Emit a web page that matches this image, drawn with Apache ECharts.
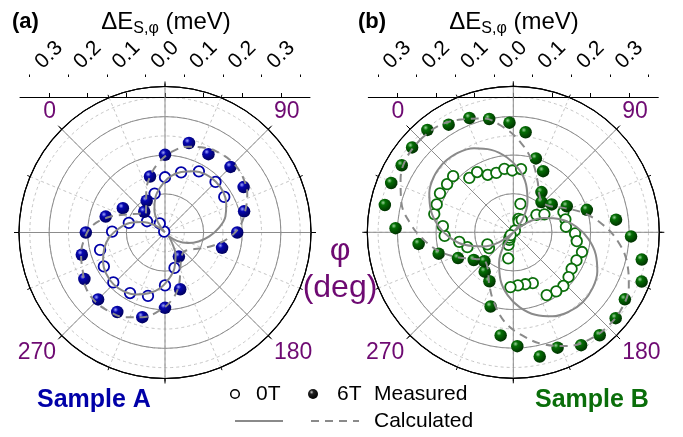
<!DOCTYPE html>
<html>
<head>
<meta charset="utf-8">
<script src="https://cdn.jsdelivr.net/npm/echarts@6/dist/echarts.min.js"></script>
<style>
  html, body { margin: 0; padding: 0; background: #fff; }
  #main { width: 683px; height: 437px; }
</style>
</head>
<body>
<div id="main"></div>
<script>
// angles (deg) of the calculated curves
const calcAng = [0, 10, 20, 30, 40, 50, 60, 70, 80, 90, 100, 110, 120, 130, 140, 150, 160, 170, 180,
                 190, 200, 210, 220, 230, 240, 250, 260, 270, 280, 290, 300, 310, 320, 330, 340, 350, 360];

// sample A : calculated dE (meV) at calcAng
const aCalc0T = [0.000, 0.030, 0.065, 0.095, 0.120, 0.145, 0.162, 0.175, 0.184, 0.186, 0.184, 0.175, 0.162,
                 0.140, 0.115, 0.090, 0.065, 0.038, 0.012, 0.030, 0.065, 0.095, 0.120, 0.145, 0.163, 0.177,
                 0.186, 0.189, 0.186, 0.177, 0.163, 0.145, 0.120, 0.095, 0.065, 0.033, 0.000];
const aCalc6T = [0.070, 0.085, 0.115, 0.150, 0.182, 0.210, 0.230, 0.242, 0.250, 0.252, 0.247, 0.235, 0.215,
                 0.195, 0.165, 0.130, 0.098, 0.078, 0.070, 0.075, 0.095, 0.140, 0.178, 0.205, 0.227, 0.242,
                 0.250, 0.254, 0.250, 0.235, 0.225, 0.210, 0.190, 0.152, 0.110, 0.085, 0.070];
// sample A : measured [angle, dE]
const aMeas0T = [[0, 0.003], [15, 0.027], [30, 0.104], [45, 0.143], [60, 0.161], [74, 0.181], [90, 0.185],
                 [104, 0.179], [210, 0.095], [225, 0.137], [240, 0.170], [255, 0.181], [271, 0.186],
                 [286, 0.181], [300, 0.174], [316, 0.137], [330, 0.097], [347, 0.055]];
const aMeas6T = [[0, 0.076], [15, 0.095], [30, 0.150], [45, 0.201], [60, 0.240], [74, 0.232], [90, 0.240],
                 [105, 0.235], [120, 0.212], [135, 0.187], [150, 0.153], [195, 0.072], [210, 0.152],
                 [225, 0.195], [240, 0.227], [256, 0.240], [270, 0.245], [285, 0.241], [300, 0.223],
                 [315, 0.205], [330, 0.159], [345, 0.126]];

// sample B
const bCalc0T = [0.255, 0.251, 0.240, 0.221, 0.195, 0.164, 0.128, 0.087, 0.044, 0.000, 0.044, 0.087, 0.128,
                 0.164, 0.195, 0.221, 0.240, 0.251, 0.255, 0.251, 0.240, 0.221, 0.195, 0.164, 0.128, 0.087,
                 0.044, 0.000, 0.044, 0.087, 0.128, 0.164, 0.195, 0.221, 0.240, 0.251, 0.255];
const bCalc6T = [0.340, 0.337, 0.322, 0.305, 0.272, 0.232, 0.190, 0.148, 0.118, 0.108, 0.118, 0.148, 0.190,
                 0.232, 0.272, 0.305, 0.330, 0.343, 0.345, 0.340, 0.325, 0.300, 0.268, 0.235, 0.190, 0.148,
                 0.115, 0.105, 0.120, 0.155, 0.195, 0.232, 0.268, 0.300, 0.322, 0.337, 0.340];
const bMeas0T = [[6, 0.181], [14, 0.182], [21, 0.163], [29, 0.160], [37, 0.166], [44, 0.160], [52, 0.165],
                 [59, 0.076], [66, 0.037], [72, 0.031], [79, 0.039], [88, 0.006], [98, 0.075], [105, 0.093],
                 [113, 0.140], [121, 0.139], [129, 0.137], [136, 0.160], [143, 0.166], [151, 0.185],
                 [159, 0.179], [167, 0.178], [174, 0.184], [182, 0.190], [189, 0.189], [197, 0.184],
                 [204, 0.141], [212, 0.138], [220, 0.138], [228, 0.142], [236, 0.069], [246, 0.035],
                 [252, 0.022], [261, 0.017], [269, 0.010], [282, 0.075], [290, 0.074], [297, 0.125],
                 [305, 0.142], [312, 0.178], [320, 0.183], [328, 0.210], [335, 0.211], [343, 0.215],
                 [351, 0.212], [358, 0.213]];
const bMeas6T = [[5, 0.346], [14, 0.325], [24, 0.317], [33, 0.300], [43, 0.284], [52, 0.261], [62, 0.200],
                 [71, 0.176], [80, 0.127], [88, 0.107], [99, 0.123], [109, 0.154], [118, 0.199],
                 [128, 0.268], [137, 0.305], [147, 0.340], [156, 0.356], [166, 0.337], [175, 0.346],
                 [185, 0.348], [194, 0.341], [204, 0.320], [213, 0.329], [223, 0.295], [232, 0.269],
                 [242, 0.201], [251, 0.141], [261, 0.126], [270, 0.106], [280, 0.125], [290, 0.158],
                 [299, 0.201], [308, 0.247], [317, 0.305], [327, 0.340], [337, 0.341], [346, 0.337],
                 [355, 0.342]];

// top axis ticks
const topTicks = [-0.3, -0.2, -0.1, 0, 0.1, 0.2, 0.3];
const topMinor = [-0.35, -0.25, -0.15, -0.05, 0.05, 0.15, 0.25, 0.35];
const angleLabels = [0, 90, 180, 270];

const purple = '#6e0a72';
const blue = '#0000a8';
const green = '#0a6e0a';
const font = 'Liberation Sans, Arial, sans-serif';

const centers = [[165, 232.5], [513.3, 232.3]];
const R = 146, RMAX = 0.378;

function ball(light, mid, dark) {
  return {
    type: 'radial', x: 0.36, y: 0.32, r: 0.72,
    colorStops: [{ offset: 0, color: light }, { offset: 0.28, color: mid }, { offset: 1, color: dark }]
  };
}

const polar = [], angleAxis = [], radiusAxis = [];
centers.forEach(function (c, k) {
  polar.push({ center: c, radius: [0, R] }, { center: c, radius: [0, R] });
  angleAxis.push({
    polarIndex: 2 * k, type: 'value', min: 0, max: 360, interval: 22.5, startAngle: 135, clockwise: true,
    axisLine: { lineStyle: { color: '#000', width: 1 } },
    axisTick: { length: 3, lineStyle: { color: '#000' } },
    axisLabel: { show: false },
    splitLine: { lineStyle: { color: '#c6c6c6', width: 1, type: [3, 3] } }
  }, {
    polarIndex: 2 * k + 1, type: 'value', min: 0, max: 360, interval: 45, startAngle: 135, clockwise: true,
    z: 1,
    axisLine: { lineStyle: { color: '#000', width: 1.2 } },
    axisTick: { length: 5, lineStyle: { color: '#000' } },
    axisLabel: {
      margin: 8, color: purple, fontSize: 23, fontFamily: font,
      formatter: function (v) { return angleLabels.indexOf(v) >= 0 ? String(v) : ''; }
    },
    splitLine: { lineStyle: { color: '#8c8c8c', width: 1 } }
  });
  radiusAxis.push({
    polarIndex: 2 * k, type: 'value', min: 0, max: RMAX, interval: 0.05,
    axisLine: { show: false }, axisTick: { show: false }, axisLabel: { show: false },
    splitLine: { show: true, lineStyle: { color: '#c6c6c6', width: 1, type: [3, 3] } }
  }, {
    polarIndex: 2 * k + 1, type: 'value', min: 0, max: RMAX, interval: 0.1,
    axisLine: { show: false }, axisTick: { show: false }, axisLabel: { show: false },
    splitLine: { show: true, lineStyle: { color: '#8c8c8c', width: 1 } }
  });
});

const grid = [], xAxis = [], yAxis = [];
centers.forEach(function (c, k) {
  grid.push({ left: c[0] - 145, width: 290, top: 77, height: 20, outerBoundsMode: 'none' });
  xAxis.push({
    gridIndex: k, type: 'value', position: 'top', min: -0.375, max: 0.375,
    axisLine: { lineStyle: { color: '#000', width: 1 } },
    axisTick: { customValues: topTicks, length: 4, lineStyle: { color: '#000' } },
    axisLabel: {
      customValues: topTicks, rotate: 45, align: 'center', verticalAlign: 'middle', margin: 22,
      fontSize: 21, fontFamily: font, color: '#000',
      formatter: function (v) { return Math.abs(v).toFixed(1); }
    },
    splitLine: { show: false }
  }, {
    gridIndex: k, type: 'value', position: 'top', min: -0.375, max: 0.375,
    axisLine: { show: false },
    axisTick: { customValues: topMinor, length: 2.5, lineStyle: { color: '#000' } },
    axisLabel: { show: false },
    splitLine: { show: false }
  });
  yAxis.push({ gridIndex: k, type: 'value', show: false });
});

function calcSeries(vals, pi, dashed) {
  return {
    type: 'line', coordinateSystem: 'polar', polarIndex: pi, smooth: 0.4, symbol: 'none',
    data: vals.map(function (r, i) { return [r, calcAng[i]]; }),
    lineStyle: { color: '#8a8a8a', width: 2, type: dashed ? [8, 6] : 'solid' },
    silent: true
  };
}
function measSeries(pts, pi, open, col, fill) {
  return {
    type: 'scatter', coordinateSystem: 'polar', polarIndex: pi, symbol: 'circle',
    symbolSize: open ? 10.5 : 12.5,
    data: pts.map(function (p) { return [p[1], p[0]]; }),
    itemStyle: open ? { color: '#fff', borderColor: col, borderWidth: 1.8, opacity: 1 }
                    : { color: fill, opacity: 1 }
  };
}

const series = [
  calcSeries(aCalc0T, 1, false), calcSeries(aCalc6T, 1, true),
  measSeries(aMeas0T, 1, true, blue), measSeries(aMeas6T, 1, false, blue, ball('#a0a6ff', '#0606b0', '#00005a')),
  calcSeries(bCalc0T, 3, false), calcSeries(bCalc6T, 3, true),
  measSeries(bMeas0T, 3, true, green), measSeries(bMeas6T, 3, false, green, ball('#9ad29a', '#046e04', '#002e00'))
];

function title(x) {
  return {
    type: 'text', x: x, y: 22,
    style: {
      text: '{m|ΔE}{s|S,φ}{m| (meV)}', align: 'center', verticalAlign: 'middle',
      rich: {
        m: { fontSize: 24, fontFamily: font, fill: '#000' },
        s: { fontSize: 16, fontFamily: font, fill: '#000', padding: [14, 0, 0, 0] }
      }
    }
  };
}
function txt(x, y, s, size, color, weight, align) {
  return {
    type: 'text', x: x, y: y,
    style: { text: s, fontSize: size, fontFamily: font, fill: color, fontWeight: weight || 'normal',
             align: align || 'left', verticalAlign: 'middle' }
  };
}

const graphic = [
  title(166), title(514),
  txt(12, 22, '(a)', 22, '#000', 'bold'),
  txt(358, 22, '(b)', 22, '#000', 'bold'),
  txt(340, 251, 'φ', 32, purple, 'normal', 'center'),
  txt(340, 288, '(deg)', 32, purple, 'normal', 'center'),
  txt(37, 400, 'Sample A', 25, blue, 'bold'),
  txt(535, 400, 'Sample B', 25, green, 'bold'),
  { type: 'circle', shape: { cx: 235, cy: 394, r: 4.3 }, style: { fill: '#fff', stroke: '#000', lineWidth: 1.5 } },
  { type: 'circle', shape: { cx: 313, cy: 394, r: 5 }, style: { fill: ball('#c8c8c8', '#202020', '#000') } },
  txt(256, 394, '0T', 21, '#000'),
  txt(337, 394, '6T', 21, '#000'),
  txt(374, 394, 'Measured', 21, '#000'),
  { type: 'line', shape: { x1: 235, y1: 421, x2: 283, y2: 421 }, style: { stroke: '#8a8a8a', lineWidth: 2 } },
  { type: 'line', shape: { x1: 311, y1: 421, x2: 359, y2: 421 }, style: { stroke: '#8a8a8a', lineWidth: 2, lineDash: [8, 6] } },
  txt(374, 421, 'Calculated', 21, '#000')
];

const chart = echarts.init(document.getElementById('main'), null, { renderer: 'canvas' });
chart.setOption({
  animation: false,
  backgroundColor: '#fff',
  polar: polar, angleAxis: angleAxis, radiusAxis: radiusAxis,
  grid: grid, xAxis: xAxis, yAxis: yAxis,
  series: series,
  graphic: graphic
});
</script>
</body>
</html>
